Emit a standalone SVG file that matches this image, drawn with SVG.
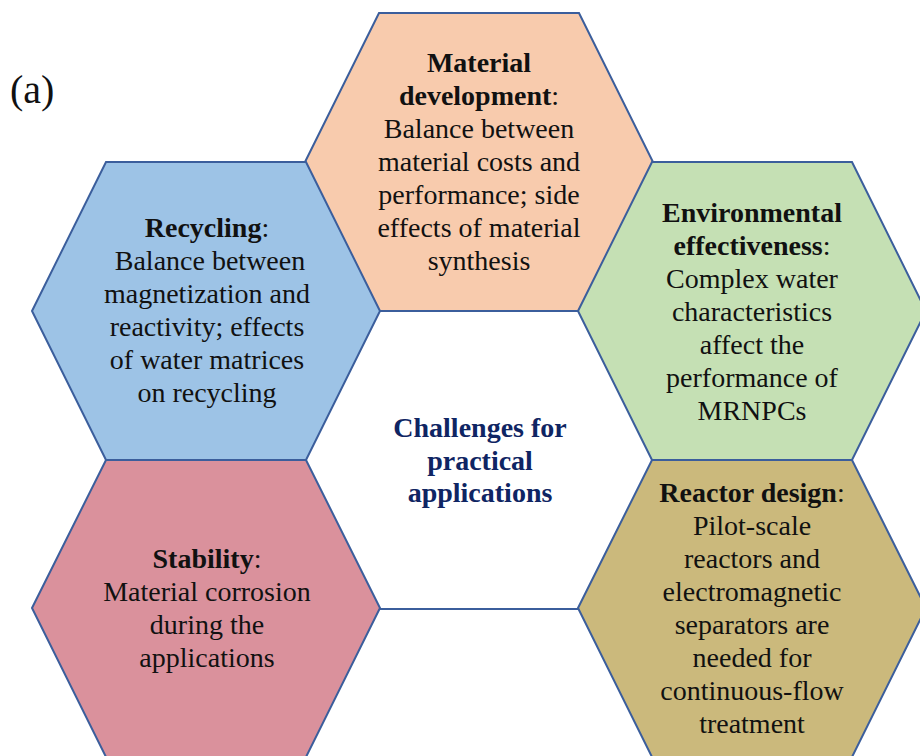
<svg xmlns="http://www.w3.org/2000/svg" width="920" height="756" viewBox="0 0 920 756">
<style>
.hex{stroke:#3B5E9C;stroke-width:2;stroke-linejoin:miter}
.t{font-family:'Liberation Serif',serif;font-size:28px;fill:#111;text-anchor:middle}
.b{font-weight:bold}
.c{font-family:'Liberation Serif',serif;font-size:28px;font-weight:bold;fill:#0F2563;text-anchor:middle}
.a{font-family:'Liberation Serif',serif;font-size:40px;fill:#111}
</style>
<rect x="0" y="0" width="920" height="756" fill="#fff"/>
<text class="a" x="10" y="103">(a)</text>

<g id="center">
<polygon class="hex" fill="#fff" points="305,460 379,311 579,311 653,460 579,609 379,609"/>
<text class="c" x="480" y="437">Challenges for</text>
<text class="c" x="480" y="470">practical</text>
<text class="c" x="480" y="502">applications</text>
</g>

<g id="material">
<polygon class="hex" fill="#F8CBAD" points="305,162 379,13 579,13 653,162 579,311 379,311"/>
<text class="t" x="479" y="72"><tspan class="b">Material</tspan></text>
<text class="t" x="479" y="105"><tspan class="b">development</tspan>:</text>
<text class="t" x="479" y="138">Balance between</text>
<text class="t" x="479" y="171">material costs and</text>
<text class="t" x="479" y="204">performance; side</text>
<text class="t" x="479" y="237">effects of material</text>
<text class="t" x="479" y="270">synthesis</text>
</g>

<g id="recycling">
<polygon class="hex" fill="#9DC3E6" points="32,311 106,162 306,162 380,311 306,460 106,460"/>
<text class="t" x="207" y="237"><tspan class="b">Recycling</tspan>:</text>
<text class="t" x="210" y="270">Balance between</text>
<text class="t" x="207" y="303">magnetization and</text>
<text class="t" x="207" y="336">reactivity; effects</text>
<text class="t" x="207" y="369">of water matrices</text>
<text class="t" x="207" y="402">on recycling</text>
</g>

<g id="environmental">
<polygon class="hex" fill="#C5E0B4" points="578,311 652,162 852,162 926,311 852,460 652,460"/>
<text class="t" x="752" y="222"><tspan class="b">Environmental</tspan></text>
<text class="t" x="752" y="255"><tspan class="b">effectiveness</tspan>:</text>
<text class="t" x="752" y="288">Complex water</text>
<text class="t" x="752" y="321">characteristics</text>
<text class="t" x="752" y="354">affect the</text>
<text class="t" x="752" y="387">performance of</text>
<text class="t" x="752" y="420">MRNPCs</text>
</g>

<g id="stability">
<polygon class="hex" fill="#DA919C" points="32,608 106,460 306,460 380,608 306,757 106,757"/>
<text class="t" x="207" y="568"><tspan class="b">Stability</tspan>:</text>
<text class="t" x="207" y="601">Material corrosion</text>
<text class="t" x="207" y="634">during the</text>
<text class="t" x="207" y="667">applications</text>
</g>

<g id="reactor">
<polygon class="hex" fill="#CBB97C" points="578,608 652,460 852,460 926,608 852,757 652,757"/>
<text class="t" x="752" y="502"><tspan class="b">Reactor design</tspan>:</text>
<text class="t" x="752" y="535">Pilot-scale</text>
<text class="t" x="752" y="568">reactors and</text>
<text class="t" x="752" y="601">electromagnetic</text>
<text class="t" x="752" y="634">separators are</text>
<text class="t" x="752" y="667">needed for</text>
<text class="t" x="752" y="700">continuous-flow</text>
<text class="t" x="752" y="733">treatment</text>
</g>

<g id="connectors"></g>
</svg>
